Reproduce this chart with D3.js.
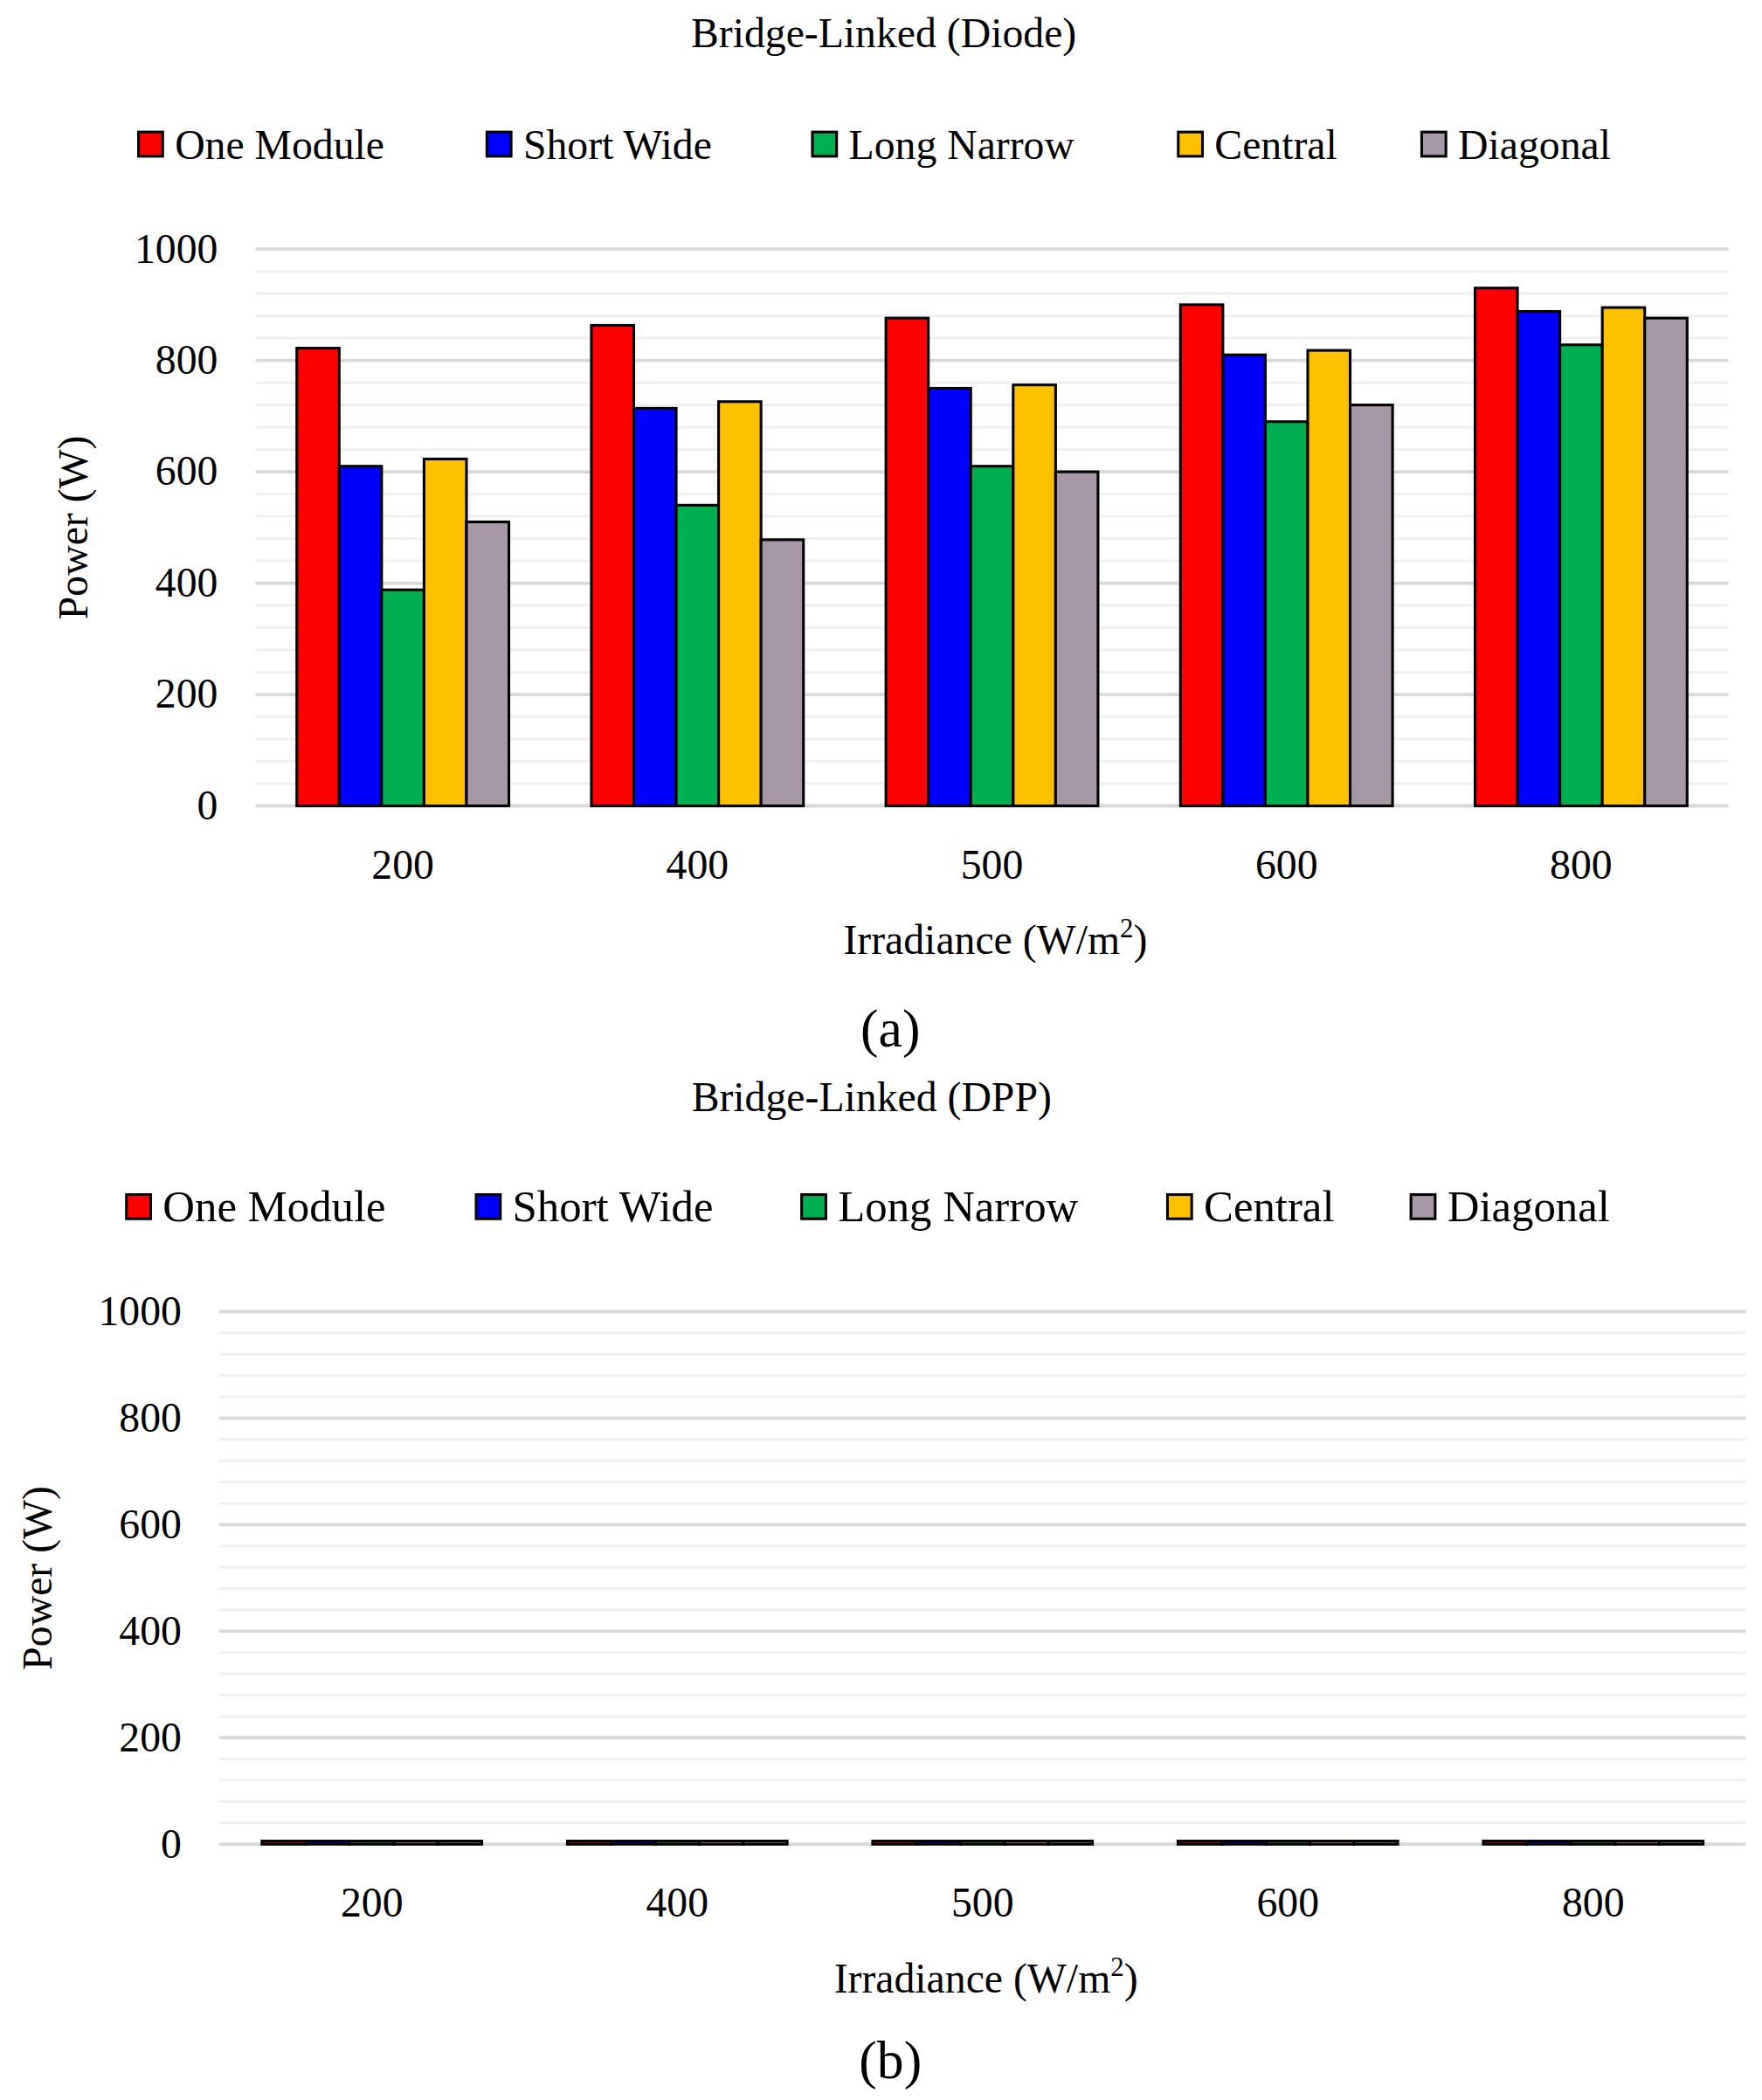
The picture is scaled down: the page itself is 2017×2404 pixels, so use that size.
<!DOCTYPE html>
<html>
<head>
<meta charset="utf-8">
<script src="https://cdn.jsdelivr.net/npm/d3@7"></script>
<style>
  body { margin: 0; background: #fff; }
  text { font-family: "Liberation Serif", "DejaVu Serif", serif; fill: #000; }
</style>
</head>
<body>
<svg id="chart" width="2017" height="2404" viewBox="0 0 1310 1561"></svg>
<script>
// chart data
const irradiance = ["200", "400", "500", "600", "800"];
const seriesNames = ["One Module", "Short Wide", "Long Narrow", "Central", "Diagonal"];
const seriesColors = ["#ff0000", "#0000ff", "#00b050", "#ffc000", "#a698a6"];
const yTicks = [0, 200, 400, 600, 800, 1000];

// Bridge-Linked (Diode), one array per irradiance level
const diode200 = [822, 610, 388, 623, 510];
const diode400 = [863, 714, 540, 726, 478];
const diode500 = [876, 750, 610, 756, 600];
const diode600 = [900, 810, 690, 818, 720];
const diode800 = [930, 888, 828, 895, 876];

// Bridge-Linked (DPP) - bars sit almost on zero
const dpp200 = [6, 6, 6, 6, 6];
const dpp400 = [6, 6, 6, 6, 6];
const dpp500 = [6, 6, 6, 6, 6];
const dpp600 = [6, 6, 6, 6, 6];
const dpp800 = [6, 6, 6, 6, 6];

const svg = d3.select("#chart");

function drawPanel(cfg) {
  const g = svg.append("g");

  const x = d3.scaleBand().domain(irradiance).range([cfg.left, cfg.right]).paddingInner(0.28).paddingOuter(0.14);
  const xs = d3.scaleBand().domain(seriesNames).range([0, x.bandwidth()]);
  const y = d3.scaleLinear().domain([0, 1000]).range([cfg.bottom, cfg.top]);

  // title
  g.append("text").attr("x", cfg.titleX).attr("y", cfg.titleY)
    .attr("text-anchor", "middle").attr("font-size", 31).text(cfg.title);

  // legend
  const leg = g.selectAll(".leg").data(seriesNames).enter().append("g")
    .attr("transform", (d, i) => `translate(${cfg.legendX[i]},${cfg.legendY})`);
  leg.append("rect").attr("x", 0).attr("y", -9).attr("width", 18).attr("height", 18)
    .attr("fill", (d, i) => seriesColors[i]).attr("stroke", "#000").attr("stroke-width", 2);
  leg.append("text").attr("x", 27).attr("y", 11).attr("font-size", cfg.legendSize).text(d => d);

  // gridlines: minor every 40, major every 200
  g.append("g").selectAll("line").data(d3.range(40, 1000, 40).filter(v => v % 200 !== 0)).enter()
    .append("line").attr("x1", cfg.left).attr("x2", cfg.right)
    .attr("y1", d => y(d)).attr("y2", d => y(d))
    .attr("stroke", "#f0f0f0").attr("stroke-width", 2);
  g.append("g").selectAll("line").data(yTicks).enter()
    .append("line").attr("x1", cfg.left).attr("x2", cfg.right)
    .attr("y1", d => y(d)).attr("y2", d => y(d))
    .attr("stroke", "#d9d9d9").attr("stroke-width", 2.5);

  // y tick labels
  g.append("g").selectAll("text").data(yTicks).enter().append("text")
    .attr("x", cfg.left - 28).attr("y", d => y(d) + 10)
    .attr("text-anchor", "end").attr("font-size", 31).text(d => d);

  // bars
  cfg.data.forEach((vals, gi) => {
    g.append("g").attr("transform", `translate(${x(irradiance[gi])},0)`)
      .selectAll("rect").data(vals).enter().append("rect")
      .attr("x", (d, i) => xs(seriesNames[i]))
      .attr("width", xs.bandwidth())
      .attr("y", d => y(d))
      .attr("height", d => y(0) - y(d))
      .attr("fill", (d, i) => seriesColors[i])
      .attr("stroke", "#000").attr("stroke-width", 2);
  });

  // x tick labels
  g.append("g").selectAll("text").data(irradiance).enter().append("text")
    .attr("x", d => x(d) + x.bandwidth() / 2).attr("y", cfg.bottom + 54)
    .attr("text-anchor", "middle").attr("font-size", 31).text(d => d);

  // axis titles
  const xl = g.append("text").attr("x", cfg.xLabelX).attr("y", cfg.bottom + 110)
    .attr("text-anchor", "middle").attr("font-size", 31);
  xl.append("tspan").text("Irradiance (W/m");
  xl.append("tspan").attr("font-size", 20).attr("dy", -12).text("2");
  xl.append("tspan").attr("dy", 12).text(")");

  g.append("text").attr("transform", `translate(${cfg.yLabelX},${(cfg.top + cfg.bottom) / 2}) rotate(-90)`)
    .attr("text-anchor", "middle").attr("font-size", 31).text("Power (W)");

  g.append("text").attr("x", 662).attr("y", cfg.tagY)
    .attr("text-anchor", "middle").attr("font-size", 40).text(cfg.tag);
}

drawPanel({
  title: "Bridge-Linked  (Diode)", titleX: 657, titleY: 35,
  legendX: [103, 362, 604, 876, 1057], legendY: 107, legendSize: 31,
  left: 190, right: 1285, top: 185, bottom: 599,
  data: [diode200, diode400, diode500, diode600, diode800],
  xLabelX: 740, yLabelX: 65, tag: "(a)", tagY: 778
});

drawPanel({
  title: "Bridge-Linked  (DPP)", titleX: 648, titleY: 826,
  legendX: [94, 354, 596, 868, 1049], legendY: 897, legendSize: 33,
  left: 163, right: 1298, top: 975, bottom: 1371,
  data: [dpp200, dpp400, dpp500, dpp600, dpp800],
  xLabelX: 733, yLabelX: 38, tag: "(b)", tagY: 1545
});
</script>
</body>
</html>
